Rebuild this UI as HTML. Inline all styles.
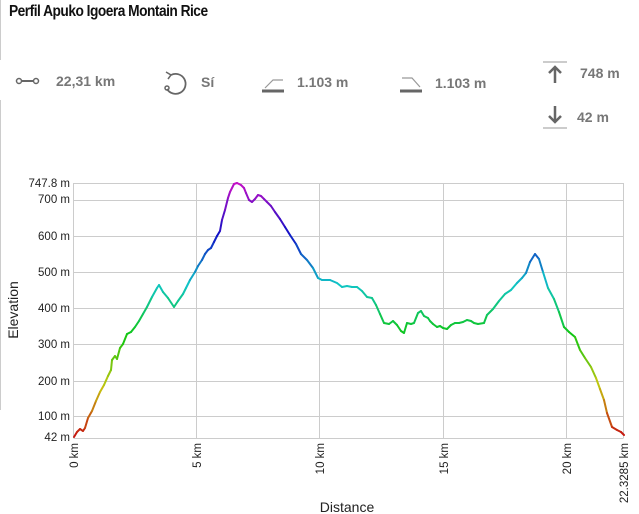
<!DOCTYPE html>
<html><head><meta charset="utf-8"><style>
body{margin:0;width:639px;height:514px;background:#fff;overflow:hidden;font-family:"Liberation Sans",sans-serif;position:relative}
.t{position:absolute;left:9px;top:3px;font-size:16px;font-weight:bold;color:#111;letter-spacing:-0.6px;transform:scaleX(0.86);transform-origin:left}
.s{position:absolute;font-size:14px;font-weight:bold;color:#777}
</style></head><body>
<div style="position:absolute;left:0;top:0;width:1px;height:60px;background:#ccc"></div>
<div style="position:absolute;left:0;top:100px;width:1px;height:310px;background:#ccc"></div>
<div class="t">Perfil Apuko Igoera Montain Rice</div>
<svg width="639" height="140" style="position:absolute;left:0;top:0" fill="none" stroke="#666" stroke-width="2">
<circle cx="19" cy="81" r="2.5" stroke-width="1.5"/><line x1="22" y1="81" x2="33" y2="81"/><circle cx="36" cy="81" r="2.5" stroke-width="1.5"/>
<path d="M171 75 A10 10 0 1 1 167 89" stroke-width="1.8"/><path d="M166 72 L171 75 L168 79" stroke-width="1.5"/><circle cx="167" cy="88" r="2" stroke-width="1.5"/>
<line x1="262" y1="91" x2="284" y2="91" stroke-width="3"/><path d="M265 88 L273 80 L283 80" stroke-width="1.2" stroke="#999"/>
<line x1="400" y1="91" x2="422" y2="91" stroke-width="3"/><path d="M402 78 L412 78 L420 87" stroke-width="1.2" stroke="#999"/>
<line x1="543" y1="62" x2="567" y2="62" stroke="#bbb" stroke-width="1.5"/><path d="M555 83 V68 M549 73 L555 67 L561 73" stroke-width="2.5"/>
<line x1="543" y1="128" x2="567" y2="128" stroke="#bbb" stroke-width="1.5"/><path d="M555 106 V121 M549 116 L555 122 L561 116" stroke-width="2.5"/>
</svg>
<div class="s" style="left:56px;top:73px">22,31 km</div>
<div class="s" style="left:201px;top:74px">Sí</div>
<div class="s" style="left:297px;top:74px">1.103 m</div>
<div class="s" style="left:435px;top:75px">1.103 m</div>
<div class="s" style="left:580px;top:65px">748 m</div>
<div class="s" style="left:577px;top:109px">42 m</div>
<svg id="c" width="639" height="514" style="position:absolute;left:0;top:0" font-family="Liberation Sans, sans-serif" font-size="11.5" fill="#222">
<g stroke="#ccc" stroke-width="1">
<line x1="73.5" y1="183.5" x2="623.5" y2="183.5"/><line x1="73.5" y1="200.5" x2="623.5" y2="200.5"/><line x1="73.5" y1="236.5" x2="623.5" y2="236.5"/><line x1="73.5" y1="272.5" x2="623.5" y2="272.5"/><line x1="73.5" y1="308.5" x2="623.5" y2="308.5"/><line x1="73.5" y1="344.5" x2="623.5" y2="344.5"/><line x1="73.5" y1="381.5" x2="623.5" y2="381.5"/><line x1="73.5" y1="416.5" x2="623.5" y2="416.5"/><line x1="73.5" y1="438.5" x2="623.5" y2="438.5"/>
<line x1="73.5" y1="183" x2="73.5" y2="438"/><line x1="196.5" y1="183" x2="196.5" y2="438"/><line x1="319.5" y1="183" x2="319.5" y2="438"/><line x1="443.5" y1="183" x2="443.5" y2="438"/><line x1="566.5" y1="183" x2="566.5" y2="438"/><line x1="623.5" y1="183" x2="623.5" y2="438"/>
</g>
<g text-anchor="end">
<text x="70" y="187">747.8 m</text><text x="70" y="203">700 m</text><text x="70" y="240">600 m</text><text x="70" y="276">500 m</text><text x="70" y="312">400 m</text><text x="70" y="348">300 m</text><text x="70" y="385">200 m</text><text x="70" y="420">100 m</text><text x="70" y="441">42 m</text>
<text transform="translate(78,443) rotate(-90)">0 km</text><text transform="translate(201,443) rotate(-90)">5 km</text><text transform="translate(324,443) rotate(-90)">10 km</text><text transform="translate(448,443) rotate(-90)">15 km</text><text transform="translate(571,443) rotate(-90)">20 km</text><text transform="translate(628,443) rotate(-90)">22.3285 km</text>
</g>
<text transform="translate(18,310) rotate(-90)" text-anchor="middle" font-size="14">Elevation</text>
<text x="347" y="512" text-anchor="middle" font-size="14">Distance</text>
<g id="p" stroke-width="2" stroke-linecap="round"></g>
</svg>
<script>
var P=[74,437,77,432,80,429,83,431,85,428,88,418,92,411,96,401,100,392,104,385,108,376,111,370,112,360,115,356,117,359,120,348,123,344,127,334,131,332,135,327,139,321,143,314,147,307,152,297,157,288,159,285,163,292,168,298,174,307,178,301,183,294,186,288,190,280,195,272,198,266,202,260,205,254,208,250,211,248,214,242,217,236,220,231,222,220,225,210,228,198,230,192,234,184,237,183,241,185,244,188,246,193,249,200,252,202,255,199,258,195,261,196,264,199,267,202,271,206,275,212,280,219,285,227,290,235,296,244,301,254,307,260,313,268,318,278,322,280,330,280,337,283,342,287,347,286,352,287,357,287,362,291,367,297,372,298,376,305,380,314,384,323,389,324,393,321,397,325,401,331,404,333,407,323,411,324,414,323,418,313,421,311,424,316,428,318,430,321,433,324,437,327,440,326,443,328,447,329,451,325,455,323,459,323,463,322,467,320,471,321,474,323,478,324,484,323,487,315,493,309,499,301,505,294,511,290,517,283,522,278,526,273,530,262,535,254,539,259,543,272,548,288,554,299,559,312,564,327,569,332,575,337,580,350,585,358,591,367,596,378,600,389,604,400,607,413,612,427,617,430,621,432,624,435];
var g=document.getElementById('p'),s='';
for(var i=0;i<P.length-2;i+=2){var ym=(P[i+1]+P[i+3])/2,h=Math.max(0,Math.min(300,(437-ym)/254*300));
s+='<line x1="'+P[i]+'" y1="'+P[i+1]+'" x2="'+P[i+2]+'" y2="'+P[i+3]+'" stroke="hsl('+h.toFixed(0)+',85%,42%)"/>';}
g.innerHTML=s;
</script>
</body></html>
